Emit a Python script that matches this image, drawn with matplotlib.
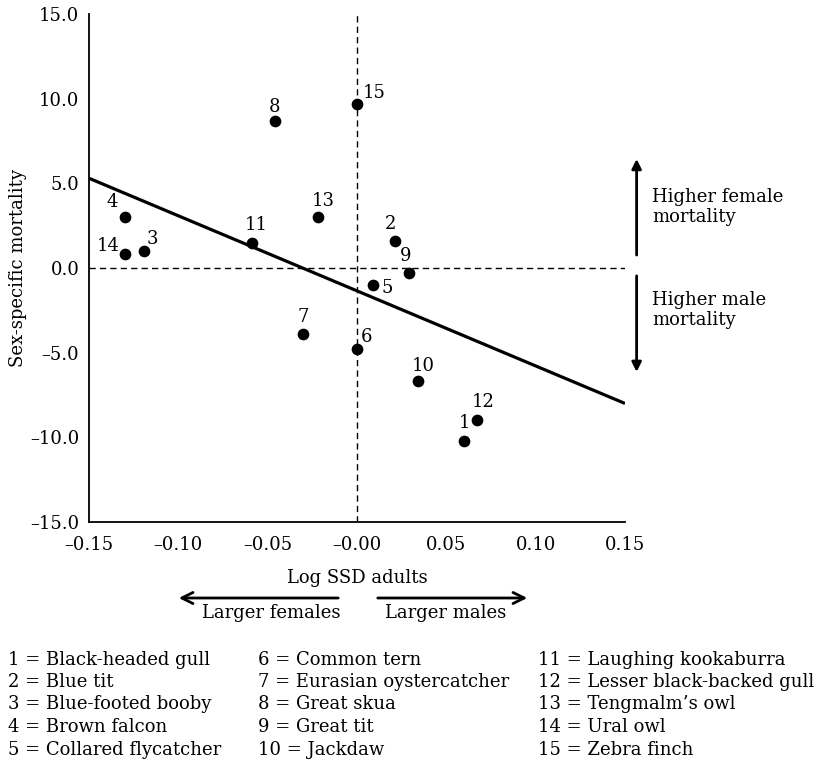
import numpy as np
import matplotlib
matplotlib.use("Agg")
import matplotlib.pyplot as plt
from matplotlib.patches import FancyArrowPatch

plt.rcParams["font.family"] = ["DejaVu Serif"]

# ----- data -----
species_id = [1, 2, 3, 4, 5, 6, 7, 8, 9, 10, 11, 12, 13, 14, 15]
log_ssd = [0.060, 0.021, -0.119, -0.130, 0.009, 0.000, -0.030, -0.046,
           0.029, 0.034, -0.059, 0.067, -0.022, -0.130, 0.000]
mortality = [-10.2, 1.6, 1.0, 3.0, -1.0, -4.8, -3.9, 8.7,
             -0.3, -6.7, 1.5, -9.0, 3.0, 0.8, 9.7]

# fitted line end points
fit_x = [-0.15, 0.15]
fit_y = [5.3, -8.0]

x_ticks = [-0.15, -0.10, -0.05, 0.0, 0.05, 0.10, 0.15]
x_tick_labels = ["\u20130.15", "\u20130.10", "\u20130.05", "\u20130.00", "0.05", "0.10", "0.15"]
y_ticks = [-15, -10, -5, 0, 5, 10, 15]
y_tick_labels = ["\u201315.0", "\u201310.0", "\u20135.0", "0.0", "5.0", "10.0", "15.0"]

species_names = [
    "Black-headed gull", "Blue tit", "Blue-footed booby", "Brown falcon",
    "Collared flycatcher", "Common tern", "Eurasian oystercatcher", "Great skua",
    "Great tit", "Jackdaw", "Laughing kookaburra", "Lesser black-backed gull",
    "Tengmalm\u2019s owl", "Ural owl", "Zebra finch",
]

# label offsets (points) for each numbered dot
label_offset = {
    1: (0, 13, "center"), 2: (-3, 12, "center"), 3: (6, 9, "center"),
    4: (-9, 11, "center"), 5: (6, -2, "left"), 6: (3, 9, "left"),
    7: (0, 12, "center"), 8: (0, 10, "center"), 9: (-2, 12, "center"),
    10: (4, 11, "center"), 11: (3, 13, "center"), 12: (5, 13, "center"),
    13: (4, 12, "center"), 14: (-4, 6, "right"), 15: (4, 8, "left"),
}

FS = 13
DASH = (0, (4.5, 3))

W, H = 815, 762
fig = plt.figure(figsize=(W / 100, H / 100), dpi=100)
ax = fig.add_axes([89 / W, 1 - 522 / H, (625 - 89) / W, (522 - 14) / H])

# ----- reference lines -----
ax.axvline(0, color="black", lw=1.0, ls=DASH, zorder=1)
ax.axhline(0, color="black", lw=1.0, ls=DASH, zorder=1)

# ----- fit + points -----
ax.plot(fit_x, fit_y, color="black", lw=2.3, solid_capstyle="butt", zorder=2)
ax.scatter(log_ssd, mortality, s=55, color="black", zorder=3)

for n, x, y in zip(species_id, log_ssd, mortality):
    dx, dy, ha = label_offset[n]
    ax.annotate(str(n), xy=(x, y), xytext=(dx, dy), textcoords="offset points",
                ha=ha, va="center", fontsize=FS)

# ----- axes style -----
ax.set_xlim(-0.15, 0.15)
ax.set_ylim(-15, 15)
ax.set_xticks(x_ticks)
ax.set_xticklabels(x_tick_labels)
ax.set_yticks(y_ticks)
ax.set_yticklabels(y_tick_labels)
ax.tick_params(axis="x", length=0, labelsize=FS, pad=10)
ax.tick_params(axis="y", length=0, labelsize=FS, pad=7)
for s in ["top", "right"]:
    ax.spines[s].set_visible(False)
for s in ["left", "bottom"]:
    ax.spines[s].set_linewidth(1.3)
ax.set_xlabel("Log SSD adults", fontsize=FS, labelpad=11)
ax.set_ylabel("Sex-specific mortality", fontsize=FS, labelpad=2)

# ----- mortality direction arrows -----
ax.annotate("", xy=(0.1565, 6.6), xytext=(0.1565, 0.6), annotation_clip=False,
            arrowprops=dict(arrowstyle="-|>", color="black", lw=2, mutation_scale=14))
ax.annotate("", xy=(0.1565, -6.3), xytext=(0.1565, -0.3), annotation_clip=False,
            arrowprops=dict(arrowstyle="-|>", color="black", lw=2, mutation_scale=14))
fig.text(652 / W, 1 - 207 / H, "Higher female\nmortality", fontsize=FS,
         ha="left", va="center", linespacing=1.1)
fig.text(652 / W, 1 - 310 / H, "Higher male\nmortality", fontsize=FS,
         ha="left", va="center", linespacing=1.1)

# ----- size direction arrows -----
fig.add_artist(FancyArrowPatch(
    (341 / W, 1 - 598 / H), (176 / W, 1 - 598 / H), transform=fig.transFigure,
    arrowstyle="->", mutation_scale=20, lw=2, color="black"))
fig.add_artist(FancyArrowPatch(
    (375 / W, 1 - 598 / H), (530 / W, 1 - 598 / H), transform=fig.transFigure,
    arrowstyle="->", mutation_scale=20, lw=2, color="black"))
fig.text(340 / W, 1 - 613 / H, "Larger females", fontsize=FS, ha="right", va="center")
fig.text(385 / W, 1 - 613 / H, "Larger males", fontsize=FS, ha="left", va="center")

# ----- species key -----
col_x = [8, 258, 538]
row_y = [660, 682, 704, 727, 750]
for i, (n, name) in enumerate(zip(species_id, species_names)):
    fig.text(col_x[i // 5] / W, 1 - row_y[i % 5] / H, f"{n} = {name}",
             fontsize=FS, ha="left", va="center")

fig.savefig("out.png", dpi=100)
